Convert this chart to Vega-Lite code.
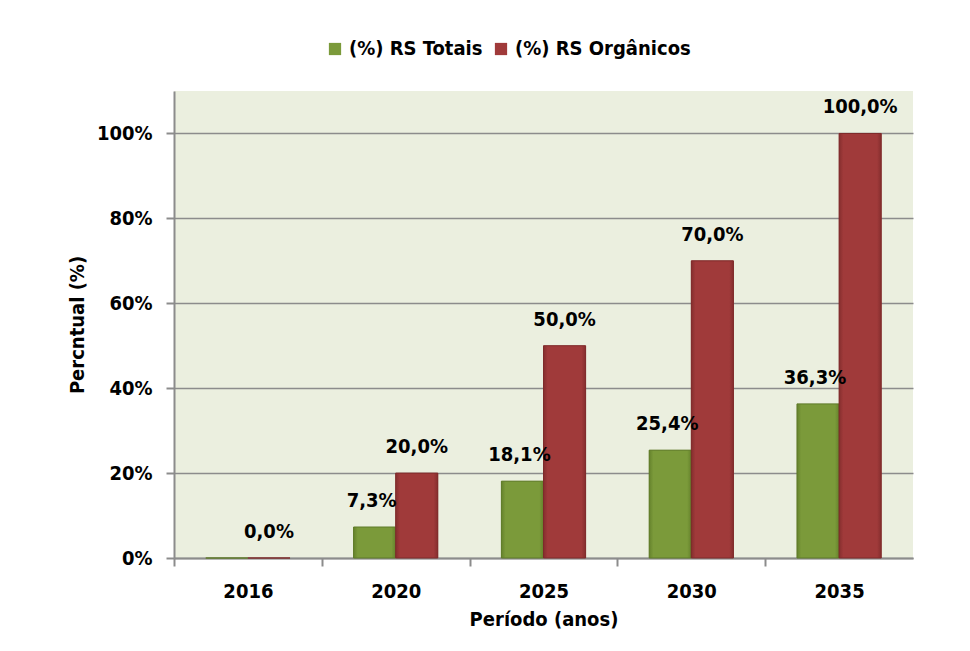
{
  "$schema": "https://vega.github.io/schema/vega-lite/v6.json",
  "width": 739,
  "height": 467,
  "autosize": {"type": "none"},
  "padding": {"left": 174, "top": 91, "right": 57, "bottom": 93},
  "background": "white",
  "config": {
    "font": "DejaVu Sans Condensed, DejaVu Sans, sans-serif",
    "locale": {"number": {"decimal": ",", "thousands": ".", "grouping": [3], "currency": ["", ""]}},
    "view": {"fill": "#ebefdf", "stroke": null},
    "axis": {
      "labelFontSize": 20, "labelFontWeight": "bold", "labelColor": "black",
      "titleFontSize": 20, "titleFontWeight": "bold", "titleColor": "black",
      "domainColor": "#8c8c8c", "domainWidth": 2, "tickColor": "#8c8c8c", "tickWidth": 2, "tickSize": 8
    },
    "legend": {"labelFontSize": 20, "labelFontWeight": "bold", "labelColor": "black", "labelLimit": 400}
  },
  "data": {
    "values": [
      {"ano": "2016", "serie": "(%) RS Totais", "valor": 0},
      {"ano": "2016", "serie": "(%) RS Orgânicos", "valor": 0},
      {"ano": "2020", "serie": "(%) RS Totais", "valor": 0.073},
      {"ano": "2020", "serie": "(%) RS Orgânicos", "valor": 0.2},
      {"ano": "2025", "serie": "(%) RS Totais", "valor": 0.181},
      {"ano": "2025", "serie": "(%) RS Orgânicos", "valor": 0.5},
      {"ano": "2030", "serie": "(%) RS Totais", "valor": 0.254},
      {"ano": "2030", "serie": "(%) RS Orgânicos", "valor": 0.7},
      {"ano": "2035", "serie": "(%) RS Totais", "valor": 0.363},
      {"ano": "2035", "serie": "(%) RS Orgânicos", "valor": 1.0}
    ]
  },
  "encoding": {
    "x": {
      "field": "ano", "type": "nominal", "sort": null,
      "scale": {"paddingInner": 0.43, "paddingOuter": 0.215},
      "axis": {"title": "Período (anos)", "labelAngle": 0, "tickOffset": -73.9, "labelOffset": 73.9, "labelPadding": 15, "titlePadding": 8, "grid": false}
    },
    "xOffset": {"field": "serie", "type": "nominal", "sort": ["(%) RS Totais", "(%) RS Orgânicos"], "scale": {"paddingInner": 0, "paddingOuter": 0}},
    "y": {
      "field": "valor", "type": "quantitative",
      "scale": {"domain": [0, 1.1], "nice": false},
      "axis": {"title": "Percntual (%)", "values": [0, 0.2, 0.4, 0.6, 0.8, 1.0], "format": ".0%", "grid": true, "gridColor": "#8c8c8c", "gridWidth": 1.5, "labelPadding": 14, "titlePadding": 9}
    }
  },
  "layer": [
    {
      "mark": {"type": "bar", "strokeWidth": 1},
      "encoding": {
        "color": {
          "field": "serie", "type": "nominal", "sort": ["(%) RS Totais", "(%) RS Orgânicos"],
          "scale": {"domain": ["(%) RS Totais", "(%) RS Orgânicos"], "range": ["#7b9a3a", "#a03a3a"]},
          "legend": {"orient": "none", "legendX": 151, "legendY": -52, "direction": "horizontal", "title": null, "symbolType": "square", "symbolSize": 150, "columnPadding": 8, "labelOffset": 4}
        }
      }
    },
    {
      "transform": [{"filter": "datum.serie == '(%) RS Totais'"}],
      "mark": {"type": "bar", "strokeWidth": 1, "stroke": "#5f7a28",
        "color": {"gradient": "linear", "x1": 0, "x2": 1, "y1": 0, "y2": 0, "stops": [{"offset": 0, "color": "#65822c"}, {"offset": 0.1, "color": "#7b9a3a"}, {"offset": 0.9, "color": "#7b9a3a"}, {"offset": 1, "color": "#65822c"}]}}
    },
    {
      "transform": [{"filter": "datum.serie == '(%) RS Orgânicos'"}],
      "mark": {"type": "bar", "strokeWidth": 1, "stroke": "#7e2a2a",
        "color": {"gradient": "linear", "x1": 0, "x2": 1, "y1": 0, "y2": 0, "stops": [{"offset": 0, "color": "#852e2e"}, {"offset": 0.1, "color": "#a03a3a"}, {"offset": 0.9, "color": "#a03a3a"}, {"offset": 1, "color": "#852e2e"}]}}
    },
    {
      "transform": [{"filter": "datum.serie == '(%) RS Totais' && datum.valor > 0"}],
      "mark": {"type": "text", "baseline": "bottom", "dy": -16, "dx": -3, "fontSize": 20, "fontWeight": "bold", "color": "black"},
      "encoding": {"text": {"field": "valor", "type": "quantitative", "format": ".1%"}}
    },
    {
      "transform": [{"filter": "datum.serie == '(%) RS Orgânicos'"}],
      "mark": {"type": "text", "baseline": "bottom", "dy": -16, "fontSize": 20, "fontWeight": "bold", "color": "black"},
      "encoding": {"text": {"field": "valor", "type": "quantitative", "format": ".1%"}}
    }
  ]
}
